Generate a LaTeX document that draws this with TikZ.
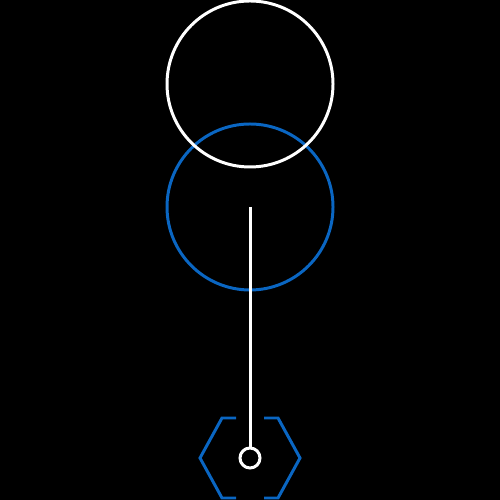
\documentclass[tikz,border=0pt]{standalone}
\usepackage{tikz}
\usetikzlibrary{positioning}

\definecolor{ringblue}{RGB}{10,102,194}

\tikzset{
  ring/.style={circle, draw, line width=1.7pt, minimum size=3.32cm, inner sep=0pt},
  pin/.style={circle, draw=white, line width=1.7pt, minimum size=0.4cm, inner sep=0pt}
}

\begin{document}
\begin{tikzpicture}
% background
\fill[black] (0,0) rectangle (10,10);
\useasboundingbox (0,0) rectangle (10,10);
% rings
\node[ring, draw=ringblue] (lower) at (5,5.86) {};
\node[ring, draw=white] (upper) at (5,8.32) {};
% stem
\node[pin] (knob) at (5,0.84) {};
\coordinate (top) at (lower.center);
\draw[white, line width=1.7pt] (top) -- (knob.north);
% hexagon with gaps
\draw[ringblue, line width=1.7pt] (4.72,1.64) -- (4.44,1.64) -- (4,0.84) -- (4.44,0.04) -- (4.72,0.04);
\draw[ringblue, line width=1.7pt] (5.28,1.64) -- (5.56,1.64) -- (6,0.84) -- (5.56,0.04) -- (5.28,0.04);
\end{tikzpicture}
\end{document}
